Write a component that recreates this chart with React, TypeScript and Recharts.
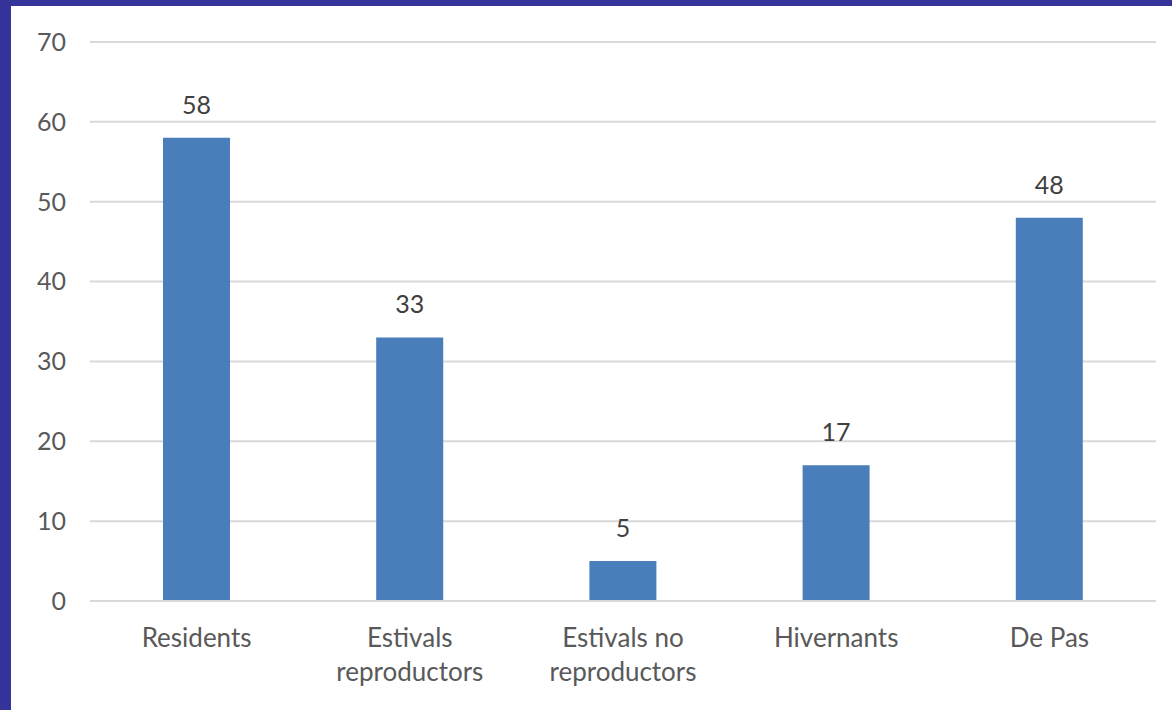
import { BarChart, Bar, XAxis, YAxis, CartesianGrid, LabelList } from 'recharts'

const categories = ['Residents', 'Estivals\nreproductors', 'Estivals no\nreproductors', 'Hivernants', 'De Pas']
const counts = [58, 33, 5, 17, 48]
const yTicks = [0, 10, 20, 30, 40, 50, 60, 70]

const data = categories.map((name, i) => ({ name, value: counts[i] }))

const FONT = 'Lato, "Open Sans", sans-serif'

const CategoryTick = ({ x, y, payload }: any) => {
  const lines = String(payload.value).split('\n')
  return (
    <text x={x} y={y} textAnchor="middle" fill="#595959" fontSize={26} fontFamily={FONT}>
      {lines.map((line, i) => (
        <tspan key={i} x={x} dy={i === 0 ? 38 : 34}>{line}</tspan>
      ))}
    </text>
  )
}

export default function App() {
  return (
    <div style={{ position: 'fixed', left: 0, top: 0, width: 1172, height: 710, background: '#34349a' }}>
      <div style={{ position: 'absolute', left: 11, top: 6, width: 1161, height: 704, background: '#ffffff' }}>
        <BarChart
          width={1161}
          height={704}
          data={data}
          margin={{ top: 36, right: 16, left: 0, bottom: 19 }}
        >
          <CartesianGrid vertical={false} stroke="#d9d9d9" strokeWidth={2} />
          <XAxis
            dataKey="name"
            tick={<CategoryTick />}
            tickLine={false}
            axisLine={{ stroke: '#d9d9d9', strokeWidth: 2 }}
            height={90}
            interval={0}
          />
          <YAxis
            domain={[0, 70]}
            ticks={yTicks}
            width={79}
            tickLine={false}
            axisLine={false}
            tickSize={0}
            tickMargin={24}
            tick={{ fill: '#595959', fontSize: 25, fontFamily: FONT }}
          />
          <Bar dataKey="value" fill="#4a7ebb" barSize={67} isAnimationActive={false}>
            <LabelList dataKey="value" position="top" offset={24} fill="#404040" fontSize={25} fontFamily={FONT} />
          </Bar>
        </BarChart>
      </div>
    </div>
  )
}
